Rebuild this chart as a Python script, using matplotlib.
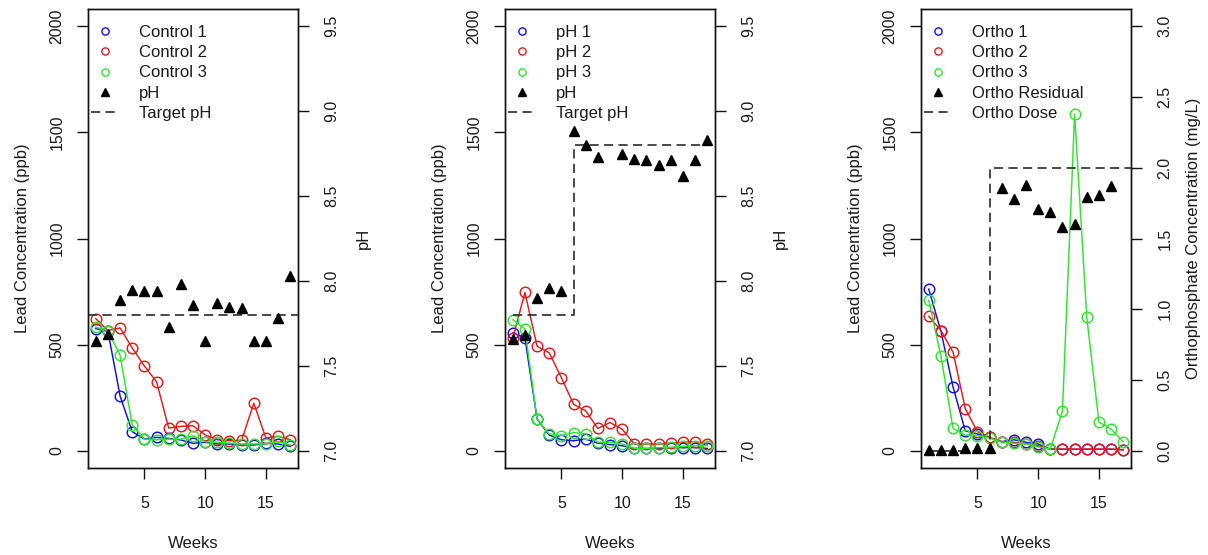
import numpy as np
import matplotlib
matplotlib.use("Agg")
import matplotlib.pyplot as plt
from matplotlib.lines import Line2D

plt.rcParams["font.family"] = ["Liberation Sans", "DejaVu Sans"]

# ---- data -------------------------------------------------------------
weeks = np.arange(1, 18)

control1 = [576, 563, 259, 91, 56, 64, 59, 52, 36, 41, 33, 33, 28, 28, 36, 33, 22]
control2 = [623, 567, 579, 485, 400, 326, 108, 116, 119, 76, 53, 48, 50, 225, 61, 69, 53]
control3 = [582, 567, 450, 123, 56, 53, 56, 56, 72, 44, 41, 37, 33, 33, 33, 45, 28]
control_ph = [7.65, 7.69, 7.89, 7.95, 7.94, 7.94, 7.73, 7.98, 7.86, 7.65,
              7.87, 7.85, 7.84, 7.65, 7.65, 7.78, 8.03]
control_target_ph = 7.8

ph1 = [556, 532, 150, 75, 53, 48, 56, 37, 30, 25, 12, 12, 12, 16, 16, 16, 12]
ph2 = [530, 746, 493, 462, 345, 220, 189, 106, 134, 103, 33, 33, 33, 37, 41, 44, 33]
ph3 = [618, 574, 150, 80, 72, 87, 80, 41, 41, 33, 12, 12, 16, 17, 22, 25, 25]
ph_measured = [7.66, 7.68, 7.90, 7.96, 7.94, 8.88, 8.80, 8.73, np.nan, 8.75,
               8.72, 8.71, 8.68, 8.71, 8.62, 8.71, 8.83]
ph_target = [7.8] * 5 + [8.8] * 12

ortho1 = [762, 563, 301, 95, 80, 64, 44, 53, 41, 33, 9, 8, 8, 8, 8, 8, 6]
ortho2 = [634, 567, 465, 200, 91, 64, 44, 41, 33, 25, 9, 9, 9, 9, 9, 9, 6]
ortho3 = [709, 446, 106, 75, 72, 61, 41, 36, 33, 20, 9, 189, 1586, 629, 137, 103, 44]
ortho_residual = [0.01, 0.01, 0.01, 0.02, 0.02, 0.02, 1.86, 1.78, 1.88, 1.71,
                  1.69, 1.58, 1.60, 1.79, 1.81, 1.87, np.nan]
dose_weeks = np.arange(1, 19)
ortho_dose = [0.0] * 5 + [2.0] * 13

# ---- styling ----------------------------------------------------------
BLUE, RED, GREEN = "#1010e6", "#e61a1a", "#2ee62e"
DASH_COLOR = "#2a2a2a"
TXT = "#1a1a1a"
DASH = (0, (5.5, 3.2))
FS_TICK = 11.5
FS_LAB = 12

W, H = 1208, 555
fig = plt.figure(figsize=(W / 100, H / 100), dpi=100)

box_w, box_top, box_bot = 210, 9, 468
lefts = [88, 505, 921]


def make_axes(left):
    rect = [left / W, (H - box_bot) / H, box_w / W, (box_bot - box_top) / H]
    ax = fig.add_axes(rect)
    ax2 = ax.twinx()
    for a in (ax, ax2):
        for s in a.spines.values():
            s.set_linewidth(1.0)
            s.set_color("#111111")
    ax.set_xlim(0.36, 17.64)
    ax.set_ylim(-80, 2080)
    ax.set_xticks([5, 10, 15])
    ax.set_yticks([0, 500, 1000, 1500, 2000])
    ax.tick_params(axis="both", length=8, width=1.0, color="#111111",
                   labelsize=FS_TICK, labelcolor=TXT)
    ax.tick_params(axis="x", pad=12)
    ax.tick_params(axis="y", pad=9)
    for lbl in ax.get_yticklabels():
        lbl.set_rotation(90)
        lbl.set_va("center")
    ax.set_xlabel("Weeks", fontsize=FS_LAB, color=TXT, labelpad=18)
    ax.set_ylabel("Lead Concentration (ppb)", fontsize=FS_LAB, color=TXT, labelpad=14)
    ax2.tick_params(axis="y", length=8, width=1.0, color="#111111",
                    labelsize=FS_TICK, labelcolor=TXT, pad=11)
    return ax, ax2


def lead_series(ax, values, color):
    ax.plot(weeks, values, color=color, lw=1.05, marker="o", ms=7.6,
            mfc="none", mec=color, mew=1.05, zorder=3)


def finish_right(ax2, ticks, fmt):
    ax2.set_yticks(ticks)
    ax2.set_yticklabels([fmt.format(t) for t in ticks])
    for lbl in ax2.get_yticklabels():
        lbl.set_rotation(90)
        lbl.set_va("center")


def add_legend(ax2, labels):
    handles = [
        Line2D([], [], ls="none", marker="o", ms=5.2, mfc="none", mec=BLUE, mew=1.0),
        Line2D([], [], ls="none", marker="o", ms=5.2, mfc="none", mec=RED, mew=1.0),
        Line2D([], [], ls="none", marker="o", ms=5.2, mfc="none", mec=GREEN, mew=1.0),
        Line2D([], [], ls="none", marker="^", ms=5.5, color="black"),
        Line2D([], [], ls=DASH, lw=1.2, color=DASH_COLOR),
    ]
    leg = ax2.legend(handles, labels, loc="upper left",
                     bbox_to_anchor=(-0.022, 0.982),
                     frameon=False, fontsize=FS_LAB, handlelength=1.75,
                     handletextpad=1.15, labelspacing=0.32, borderpad=0.45,
                     borderaxespad=0.0)
    for t in leg.get_texts():
        t.set_color(TXT)


# ---- panel 1: control -------------------------------------------------
ax, ax2 = make_axes(lefts[0])
lead_series(ax, control1, BLUE)
lead_series(ax, control2, RED)
lead_series(ax, control3, GREEN)
ax2.set_ylim(6.9, 9.6)
ax2.plot(weeks, control_ph, ls="none", marker="^", ms=7, color="black", zorder=4)
ax2.axhline(control_target_ph, ls=DASH, lw=1.2, color=DASH_COLOR)
finish_right(ax2, [7.0, 7.5, 8.0, 8.5, 9.0, 9.5], "{:.1f}")
ax2.set_ylabel("pH", fontsize=FS_LAB, color=TXT, labelpad=12)
add_legend(ax2, ["Control 1", "Control 2", "Control 3", "pH", "Target pH"])

# ---- panel 2: pH adjustment ------------------------------------------
ax, ax2 = make_axes(lefts[1])
lead_series(ax, ph1, BLUE)
lead_series(ax, ph2, RED)
lead_series(ax, ph3, GREEN)
ax2.set_ylim(6.9, 9.6)
ax2.plot(weeks, ph_measured, ls="none", marker="^", ms=7, color="black", zorder=4)
ax2.plot(weeks, ph_target, ls=DASH, lw=1.2, color=DASH_COLOR, drawstyle="steps-post")
finish_right(ax2, [7.0, 7.5, 8.0, 8.5, 9.0, 9.5], "{:.1f}")
ax2.set_ylabel("pH", fontsize=FS_LAB, color=TXT, labelpad=12)
add_legend(ax2, ["pH 1", "pH 2", "pH 3", "pH", "Target pH"])

# ---- panel 3: orthophosphate -----------------------------------------
ax, ax2 = make_axes(lefts[2])
lead_series(ax, ortho1, BLUE)
lead_series(ax, ortho2, RED)
lead_series(ax, ortho3, GREEN)
ax2.set_ylim(-0.12, 3.12)
ax2.plot(weeks, ortho_residual, ls="none", marker="^", ms=7, color="black", zorder=4)
ax2.plot(dose_weeks, ortho_dose, ls=DASH, lw=1.2, color=DASH_COLOR, drawstyle="steps-post")
ax2.set_xlim(0.36, 17.64)
finish_right(ax2, [0.0, 0.5, 1.0, 1.5, 2.0, 2.5, 3.0], "{:.1f}")
ax2.set_ylabel("Orthophosphate Concentration (mg/L)", fontsize=FS_LAB, color=TXT, labelpad=10)
add_legend(ax2, ["Ortho 1", "Ortho 2", "Ortho 3", "Ortho Residual", "Ortho Dose"])

fig.savefig("out.png", dpi=100)
